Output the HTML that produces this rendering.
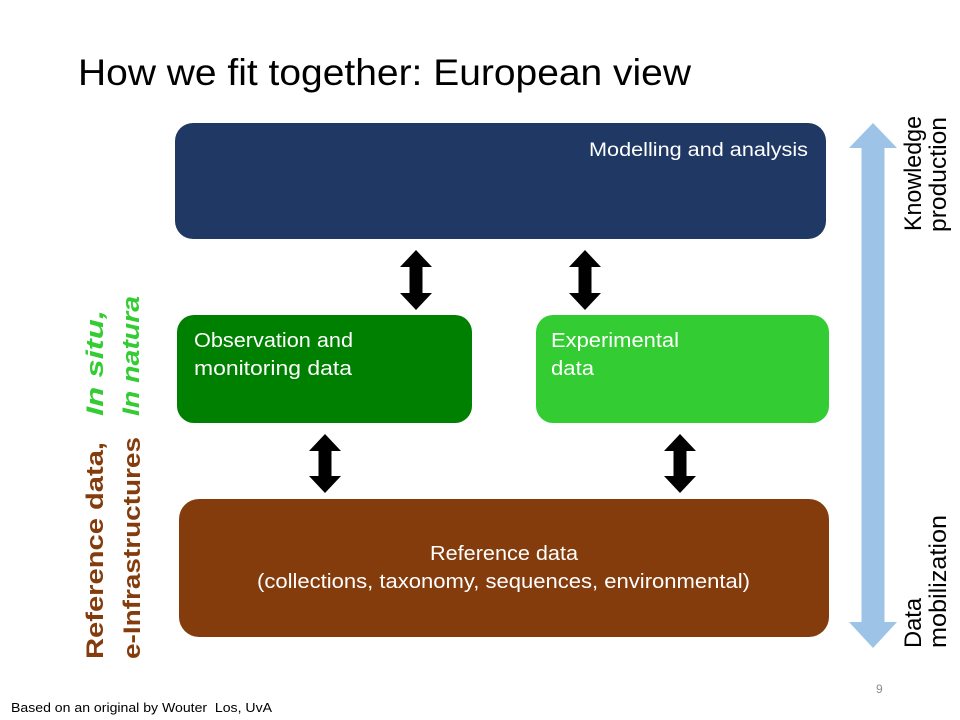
<!DOCTYPE html>
<html>
<head>
<meta charset="utf-8">
<style>
  html, body { margin: 0; padding: 0; background: #fff; }
  svg { display: block; }
  text { font-family: "Liberation Sans", sans-serif; }
</style>
</head>
<body>
<svg width="960" height="720" viewBox="0 0 960 720" xmlns="http://www.w3.org/2000/svg">
  <rect x="0" y="0" width="960" height="720" fill="#ffffff"/>

  <!-- Title -->
  <text x="78" y="85" font-size="37" fill="#000" textLength="613" lengthAdjust="spacingAndGlyphs">How we fit together: European view</text>

  <!-- Modelling box -->
  <rect x="175" y="123" width="651" height="116" rx="18" ry="18" fill="#203864"/>
  <text x="589" y="156" font-size="19" fill="#fff" textLength="219" lengthAdjust="spacingAndGlyphs">Modelling and analysis</text>

  <!-- Observation box -->
  <rect x="177" y="315" width="295" height="108" rx="17" ry="17" fill="#008000"/>
  <text x="194" y="347" font-size="20" fill="#fff" textLength="159" lengthAdjust="spacingAndGlyphs">Observation and</text>
  <text x="194" y="375" font-size="20" fill="#fff" textLength="158" lengthAdjust="spacingAndGlyphs">monitoring data</text>

  <!-- Experimental box -->
  <rect x="536" y="315" width="293" height="108" rx="17" ry="17" fill="#33cc33"/>
  <text x="551" y="347" font-size="20" fill="#fff" textLength="128" lengthAdjust="spacingAndGlyphs">Experimental</text>
  <text x="551" y="375" font-size="20" fill="#fff" textLength="43" lengthAdjust="spacingAndGlyphs">data</text>

  <!-- Reference box -->
  <rect x="179" y="499" width="650" height="138" rx="20" ry="20" fill="#843c0c"/>
  <text x="430" y="560" font-size="20" fill="#fff" textLength="148" lengthAdjust="spacingAndGlyphs">Reference data</text>
  <text x="257" y="588" font-size="20" fill="#fff" textLength="493" lengthAdjust="spacingAndGlyphs">(collections, taxonomy, sequences, environmental)</text>

  <!-- Black double arrows -->
  <g fill="#000">
    <polygon points="416,250 432,267 422.5,267 422.5,293 432,293 416,310 400,293 409.5,293 409.5,267 400,267"/>
    <polygon points="585,250 601,267 591.5,267 591.5,293 601,293 585,310 569,293 578.5,293 578.5,267 569,267"/>
    <polygon points="325,434 341,451 331.5,451 331.5,476 341,476 325,493 309,476 318.5,476 318.5,451 309,451"/>
    <polygon points="680,434 696,451 686.5,451 686.5,476 696,476 680,493 664,476 673.5,476 673.5,451 664,451"/>
  </g>

  <!-- Light blue vertical double arrow -->
  <polygon fill="#9dc3e6" points="873,123 897,148 884.5,148 884.5,622 897,622 873,648 849,622 861.5,622 861.5,148 849,148"/>

  <!-- Right rotated labels -->
  <text transform="translate(921,231) rotate(-90)" font-size="24" fill="#000" textLength="115" lengthAdjust="spacingAndGlyphs">Knowledge</text>
  <text transform="translate(946,232) rotate(-90)" font-size="24" fill="#000" textLength="115" lengthAdjust="spacingAndGlyphs">production</text>
  <text transform="translate(921,648) rotate(-90)" font-size="24" fill="#000" textLength="50" lengthAdjust="spacingAndGlyphs">Data</text>
  <text transform="translate(946,648) rotate(-90)" font-size="24" fill="#000" textLength="133" lengthAdjust="spacingAndGlyphs">mobilization</text>

  <!-- Left rotated labels -->
  <text transform="translate(103,416) rotate(-90)" font-size="24" font-weight="bold" font-style="italic" fill="#33cc33" textLength="106" lengthAdjust="spacingAndGlyphs">In situ,</text>
  <text transform="translate(139,416) rotate(-90)" font-size="24" font-weight="bold" font-style="italic" fill="#33cc33" textLength="120" lengthAdjust="spacingAndGlyphs">In natura</text>
  <text transform="translate(103,659) rotate(-90)" font-size="24" font-weight="bold" fill="#843c0c" textLength="217" lengthAdjust="spacingAndGlyphs">Reference data,</text>
  <text transform="translate(140,659) rotate(-90)" font-size="24" font-weight="bold" fill="#843c0c" textLength="222" lengthAdjust="spacingAndGlyphs">e-Infrastructures</text>

  <!-- Page number -->
  <text x="876" y="693" font-size="12" fill="#8c8c8c">9</text>

  <!-- Footer -->
  <text x="11" y="712" font-size="13" fill="#000" xml:space="preserve" textLength="261" lengthAdjust="spacingAndGlyphs">Based on an original by Wouter&#160; Los, UvA</text>
</svg>
</body>
</html>
